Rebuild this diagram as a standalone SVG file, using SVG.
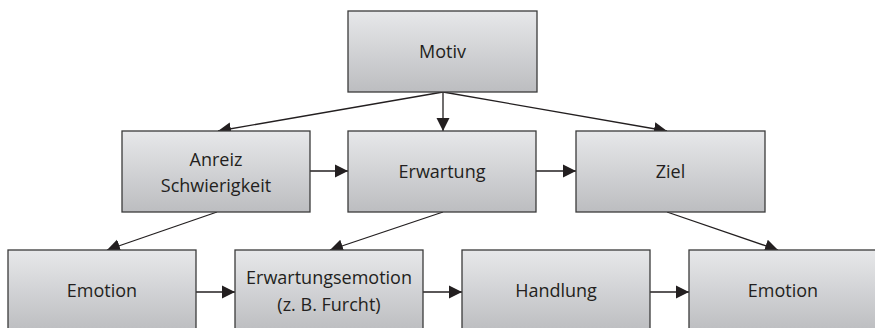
<svg xmlns="http://www.w3.org/2000/svg" width="875" height="328" viewBox="0 0 875 328">
<defs>
<linearGradient id="g" x1="0" y1="0" x2="0" y2="1">
<stop offset="0" stop-color="#e7e8ea"/>
<stop offset="1" stop-color="#bcbdc0"/>
</linearGradient>
<marker id="ah" markerUnits="userSpaceOnUse" markerWidth="14" markerHeight="14" viewBox="0 0 14 14" refX="13" refY="7" orient="auto">
<path d="M0,0.5 L13,7 L0,13.5 Z" fill="#231f20"/>
</marker>
<style>
.box{fill:url(#g);stroke:#3b3b3b;stroke-width:1.3}
.t{font-family:"Open Sans","Liberation Sans",sans-serif;font-size:18px;fill:#231f20;text-anchor:middle}
.c{stroke:#231f20;stroke-width:1.3;fill:none;marker-end:url(#ah)}
</style>
</defs>
<g id="connectors">
<line class="c" x1="443" y1="92" x2="218" y2="131"/>
<line class="c" x1="443" y1="92" x2="443" y2="131"/>
<line class="c" x1="443" y1="92" x2="667" y2="131"/>
<line class="c" x1="310" y1="171" x2="348" y2="171"/>
<line class="c" x1="536" y1="171" x2="576" y2="171"/>
<line class="c" x1="217" y1="212" x2="107" y2="250"/>
<line class="c" x1="443" y1="212" x2="330" y2="250"/>
<line class="c" x1="667" y1="212" x2="778" y2="250"/>
<line class="c" x1="196" y1="292" x2="235" y2="292"/>
<line class="c" x1="423" y1="292" x2="462" y2="292"/>
<line class="c" x1="650" y1="292" x2="689" y2="292"/>
</g>
<g id="motiv"><rect class="box" x="348" y="11" width="189" height="81"/><text class="t" x="442.5" y="58">Motiv</text></g>
<g id="anreiz"><rect class="box" x="122" y="131" width="188" height="81"/><text class="t" x="216" y="166">Anreiz</text><text class="t" x="216" y="192">Schwierigkeit</text></g>
<g id="erwartung"><rect class="box" x="348" y="131" width="188" height="81"/><text class="t" x="442" y="178">Erwartung</text></g>
<g id="ziel"><rect class="box" x="576" y="131" width="189" height="81"/><text class="t" x="670.5" y="178">Ziel</text></g>
<g id="emotion1"><rect class="box" x="8" y="250" width="188" height="82"/><text class="t" x="102" y="297">Emotion</text></g>
<g id="erwartungsemotion"><rect class="box" x="235" y="250" width="188" height="82"/><text class="t" x="329" y="284">Erwartungsemotion</text><text class="t" x="329" y="311">(z. B. Furcht)</text></g>
<g id="handlung"><rect class="box" x="462" y="250" width="188" height="82"/><text class="t" x="556" y="297">Handlung</text></g>
<g id="emotion2"><rect class="box" x="689" y="250" width="188" height="82"/><text class="t" x="783" y="297">Emotion</text></g>
</svg>
